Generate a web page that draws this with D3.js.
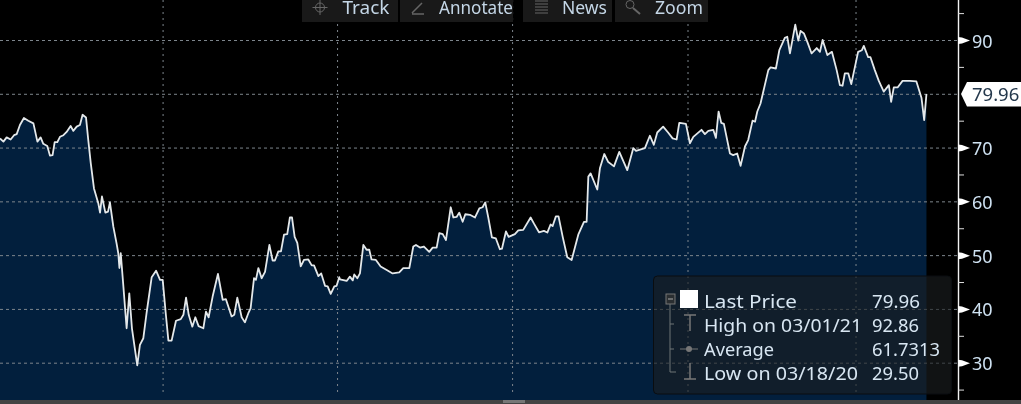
<!DOCTYPE html>
<html><head><meta charset="utf-8">
<script src="https://cdn.jsdelivr.net/npm/d3@7"></script>
<style>
html,body{margin:0;padding:0;background:#000;overflow:hidden}
svg{display:block;font-family:"Noto Sans","Open Sans",sans-serif;filter:blur(0.35px)}
</style></head><body><svg id="c" width="1021" height="404"></svg>
<script>
// Trading-calendar offset of each reading, in days after 2020-01-06
const days=[0,1.8,3.5,5.6,7.4,8.8,10.5,12.6,14.9,17.6,19.7,21.4,22.8,24.9,26.3,27.7,28.8,30.2,31.6,33.4,35.1,37.2,38.6,40.4,42.1,43.5,45.3,46.5,47.8,49.5,51.8,
52.7,53.7,55.5,56.9,57.9,59.7,61.4,62.3,62.9,63.6,65,66.7,68.1,69.5,72.3,73.7,75.5,77.2,79.9,82.2,84.3,85.7,87.3,88.7,90.4,92.7,95.2,96.6,98,99.4,101.3,102.9,104.6,107.1,108.5,109.9,112,114.8,117.3,119,122,123.4,125,127.3,129,130.8,132,133.8,134.8,136.1,137.8,139.6,141.9,143.6,144.8,146.6,148,149.6,151.3,152.7,153.8,155.2,156.6,158.4,160.1,162.4,164.2,165.4,167.7,169.2,171.2,172.6,174.2,176.1,177.3,178.7,
179.1,182.6,184.3,185.8,186.6,188.2,189.6,191.4,193.1,194.5,195.7,198,200.5,203.7,206.8,210.3,212.4,215.6,217.7,219.1,221.2,223.3,226.1,227.9,230,231.4,233.2,234.9,237.4,238.8,240.5,241.9,243.7,245.1,247.5,250.2,252.5,254.2,255.6,257.2,259.1,261.2,263.3,264.4,266.5,267.9,271.2,273,275.6,279.5,281.2,283.9,286.5,288.3,290,291.1,292.8,294.2,296.4,298.8,301.1,304.6,307.6,309,309.9,311.1,314.6,316,318.3,320.4,323.4,326.2,330.4,333.6,335,339.7,342.3,344.4,346.2,349.3,351.9,354.3,356.4,357.8,
358.1,361.3,363.4,365.2,369.5,371.3,373.1,375.7,377.1,378.5,379.9,381.3,384.5,386.2,388.3,390.1,392.4,394.1,396.4,397.7,398.9,400.6,404.7,405.9,408.7,410.5,413.4,414.7,416.1,418.9,420.5,421.7,423.5,425.2,427.5,430.2,431.9,433.3,435.8,438.2,440.7,442.4,443.8,445,446.8,448.4,452,454,455,457.3,458.5,460.8,462.9,465.5,468.2,469.4,470.8,472.9,475.4,479.2,482.7,485.4,486.8,488];
const prices=[71.7,71.1,71.9,71.5,72.3,72.5,74.2,75.5,75,74.5,71.1,71.9,70.7,70.3,68.5,68.6,71,71,72,72.3,72.9,74,73.1,73.9,74.2,76.1,75.6,71.4,67.1,62.4,59.6,
57.9,60.9,57.9,58.1,59.8,55.3,52.2,50.35,47.6,50.35,44.15,36.4,42.9,36.4,29.5,33.3,34.55,39.2,45.9,47.1,45.4,45.4,39.2,34.1,34.1,37.8,38.1,38.9,42.1,38.9,36.7,38.45,36.8,36.4,39.5,38.45,42.3,46.5,41.7,41.8,38.6,38.9,42.1,38.45,37.5,39.2,40.1,45.7,45.4,47.6,45.7,46.9,51.9,49,49,50.7,50.7,53.8,53.9,57,57,53.4,52.3,47.9,49.1,49.2,48.1,48.1,46.1,46.6,44.3,44.2,42.8,44.2,44.3,45.9,
45.5,45.2,46,45.3,46.4,45.7,46.6,51.9,51,51,49.2,49.1,47.9,47.25,46.6,46.8,47.6,47.6,51.6,51.9,51.4,51.6,50.6,51.4,51.4,54.1,53.9,52.8,58.9,57,57.1,57.9,56.2,57.6,57.5,57,58.7,58.9,59.8,57,53.3,53.1,51.1,51.2,54.4,53.4,53.9,54.6,54.7,57,55.9,54.25,54.5,54.2,55.7,55.4,57.2,57.2,53.4,49.6,49.1,53.8,56.2,56.2,64.6,65.2,62.2,66.15,68.8,67.3,66.5,69.2,65.8,69.9,69.4,69.9,72.2,70.5,72.8,73.9,72.8,71.7,71.5,74.6,
74.6,74.4,70.8,72,73.3,72.5,73.1,73.3,71.8,76.7,74.6,74.4,68.9,68.6,68.9,66.6,70.2,71.4,75,74.8,76.7,78.2,84.4,84.9,84.7,88.1,90.4,90.6,87.5,92.86,89.9,91.7,91.2,89.7,87.5,88.5,87.8,90,87.2,87.8,84.4,81.6,81.5,83.8,83.8,81.8,87.8,88.1,88.9,86.8,86.8,84.4,82.4,80.4,81.6,78.5,81.2,81.2,82.4,82.4,82.3,79.2,75.1,79.96];
const gridDays=[85.9,177.8,270,362.4,450.9];
const majorTicks=[30,40,50,60,70,80,90];
const tickLabels=["30","40","50","60","70","","90"];
const minorTicks=[25,35,45,55,65,75,85,95];
const lastLabel="79.96";
const toolbarLabels=["Track","Annotate","News","Zoom"];
const legendNames=["Last Price","High on 03/01/21","Average","Low on 03/18/20"];
const legendValues=["79.96","92.86","61.7313","29.50"];

const W=1021,H=404,axisX=958,plotBottom=400;
const x=d3.scaleLinear().domain([0,537.8]).range([0,W]);
const y=d3.scaleLinear().domain([90,30]).range([40,362.7]);
const pts=days.map((d,i)=>[d,prices[i]]);
const svg=d3.select("#c");
svg.append("rect").attr("width",W).attr("height",H).attr("fill","#000");

const area=d3.area().x(d=>x(d[0])).y0(plotBottom).y1(d=>y(d[1]));
const line=d3.line().x(d=>x(d[0])).y(d=>y(d[1]));
svg.append("path").datum(pts).attr("d",area).attr("fill","#021f3d");

// grid
svg.append("g").selectAll("line").data(majorTicks).join("line")
 .attr("x1",0).attr("x2",axisX).attr("y1",d=>y(d)+.5).attr("y2",d=>y(d)+.5)
 .attr("stroke","#7d858c").attr("stroke-width",1).attr("stroke-dasharray","3 3");
svg.append("g").selectAll("line").data(gridDays).join("line")
 .attr("x1",d=>x(d)).attr("x2",d=>x(d)).attr("y1",0).attr("y2",396)
 .attr("stroke","#7d858c").attr("stroke-width",1).attr("stroke-dasharray","2 4");

svg.append("path").datum(pts).attr("d",line).attr("fill","none").attr("stroke","#e4e8ea")
 .attr("stroke-width",1.8).attr("stroke-linejoin","round");

// right axis
const ax=svg.append("g");
ax.append("line").attr("x1",axisX+.5).attr("x2",axisX+.5).attr("y1",0).attr("y2",400).attr("stroke","#f2f2f2").attr("stroke-width",1.4);
ax.selectAll(".mn").data(minorTicks).join("line").attr("class","mn")
 .attr("x1",axisX).attr("x2",axisX+6).attr("y1",d=>y(d)+.5).attr("y2",d=>y(d)+.5).attr("stroke","#ddd");
ax.selectAll(".mj").data(majorTicks.filter(d=>d!==80)).join("path").attr("class","mj")
 .attr("d",d=>d3.line()([[axisX,y(d)-3],[axisX+4,y(d)-2.5],[axisX+12,y(d)+.5],[axisX+4,y(d)+3.5],[axisX,y(d)+4]])+"Z").attr("fill","#fff");
ax.selectAll(".lb").data(majorTicks).join("text").attr("class","lb")
 .attr("x",972).attr("y",d=>y(d)+7.5).attr("font-size",18).attr("fill","#cfe2f2")
 .text((d,i)=>tickLabels[i]);

// last price tag
const ly=y(79.96);
svg.append("path").attr("d",d3.line()([[961,ly],[967,ly-12],[1021,ly-12],[1021,ly+12.5],[967,ly+12.5]])+"Z").attr("fill","#fff");
svg.append("text").attr("x",972).attr("y",ly+7).attr("font-size",18.5).attr("fill","#24384c").text(lastLabel);

// toolbar
const barRects=[[302,96],[400,113],[523,89],[615,93]];
const barTextX=[342.5,439,562,655];
const barTextW=[47,74,45,48];
const tb=svg.append("g");
tb.selectAll("rect").data(barRects).join("rect").attr("x",d=>d[0]).attr("y",0).attr("width",d=>d[1]).attr("height",22).attr("fill","#191919");
tb.selectAll("text").data(toolbarLabels).join("text").attr("x",(d,i)=>barTextX[i]).attr("y",14).attr("font-size",17.5).attr("fill","#c4d6e6")
 .attr("textLength",(d,i)=>barTextW[i]).attr("lengthAdjust","spacingAndGlyphs").text(d=>d);
const ic="#666";
tb.append("path").attr("d","M320 0V15M312.5 7.5H327.5").attr("stroke",ic).attr("fill","none");
tb.append("circle").attr("cx",320).attr("cy",7.5).attr("r",4.5).attr("stroke",ic).attr("fill","none");
tb.append("path").attr("d","M412 13L422 3M412 14H424").attr("stroke",ic).attr("stroke-width",1.5).attr("fill","none");
tb.append("path").attr("d","M535 1H548M535 4H548M535 7H548M535 10H548M535 13H548").attr("stroke",ic).attr("fill","none");
tb.append("circle").attr("cx",630).attr("cy",4.5).attr("r",4).attr("stroke",ic).attr("fill","none");
tb.append("path").attr("d","M633 8L640 14").attr("stroke",ic).attr("stroke-width",2);

// legend
const lg=svg.append("g");
lg.append("rect").attr("x",653.5).attr("y",276).attr("width",298).attr("height",118).attr("rx",4)
 .attr("fill","rgba(28,30,32,.62)").attr("stroke","#0a0d10");
const rowY=[301,324.5,349,373];
const nameW=[93,158,70,154];
const valW=[48,47,68,47];
lg.append("path").attr("d","M670 304V372H676M670 324H674M670 349H674").attr("stroke","#6f7477").attr("fill","none");
lg.append("rect").attr("x",666).attr("y",294).attr("width",9).attr("height",10).attr("fill","#2a2e31").attr("stroke","#777");
lg.append("path").attr("d","M668 299H673").attr("stroke","#aaa");
lg.append("rect").attr("x",680).attr("y",290).attr("width",18).attr("height",18).attr("fill","#fff");
lg.append("path").attr("d","M684 315H696M690 315V331").attr("stroke","#777").attr("stroke-width",1.5);
lg.append("path").attr("d","M680 349H698").attr("stroke","#777");
lg.append("circle").attr("cx",689).attr("cy",349).attr("r",3).attr("fill","#777");
lg.append("path").attr("d","M684 379H696M690 363V379").attr("stroke","#777").attr("stroke-width",1.5);
lg.selectAll(".n").data(legendNames).join("text").attr("class","n").attr("x",704).attr("y",(d,i)=>rowY[i]+7)
 .attr("font-size",18).attr("fill","#d8e6f2").attr("textLength",(d,i)=>nameW[i]).attr("lengthAdjust","spacingAndGlyphs").text(d=>d);
lg.selectAll(".v").data(legendValues).join("text").attr("class","v").attr("x",872).attr("y",(d,i)=>rowY[i]+7)
 .attr("font-size",18).attr("fill","#d8e6f2").attr("textLength",(d,i)=>valW[i]).attr("lengthAdjust","spacingAndGlyphs").text(d=>d);

// bottom strip
svg.append("rect").attr("x",0).attr("y",400).attr("width",W).attr("height",4).attr("fill","#444");
svg.append("rect").attr("x",503).attr("y",400).attr("width",22).attr("height",3).attr("fill","#777");
</script></body></html>
